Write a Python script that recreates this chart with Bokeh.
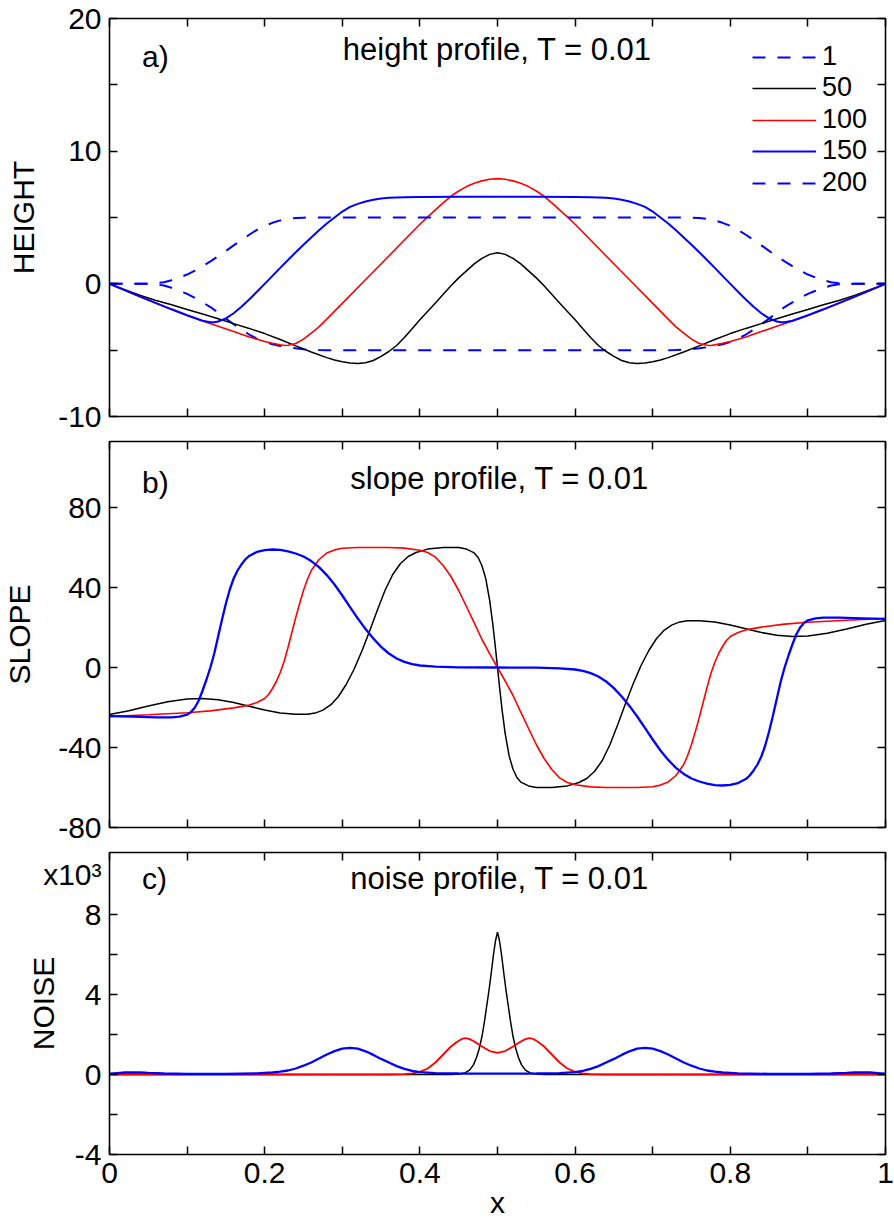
from bokeh.plotting import figure
from bokeh.models import Range1d, FixedTicker, LinearAxis, Label, Legend, LegendItem
from bokeh.layouts import column
from bokeh.embed import file_html
from bokeh.resources import INLINE

FONT = "Liberation Sans"
BLUE = "#0000ff"
RED = "#ff0000"
BLACK = "#000000"

# ---------------- panel a: height profiles ----------------
X_H_DASH = [0, 0.04, 0.06, 0.07, 0.08, 0.09, 0.10, 0.11, 0.12, 0.13, 0.14, 0.15, 0.16, 0.17, 0.18,
            0.19, 0.20, 0.21, 0.22, 0.23, 0.24, 0.25, 0.26, 0.27, 0.28, 0.30, 0.50,
            0.70, 0.72, 0.73, 0.74, 0.75, 0.76, 0.77, 0.78, 0.79, 0.80, 0.81, 0.82, 0.83, 0.84,
            0.85, 0.86, 0.87, 0.88, 0.89, 0.90, 0.91, 0.92, 0.93, 0.94, 0.96, 1.0]
H_1 = [0, 0, -0.04, -0.13, -0.3, -0.52, -0.76, -1.06, -1.4, -1.75, -2.17, -2.62, -3.05, -3.45, -3.82,
       -4.14, -4.38, -4.55, -4.68, -4.78, -4.86, -4.93, -4.97, -4.99, -5.0, -5.0, -5.0,
       -5.0, -5.0, -4.99, -4.97, -4.93, -4.86, -4.78, -4.68, -4.55, -4.38, -4.14, -3.82, -3.45, -3.05,
       -2.62, -2.17, -1.75, -1.4, -1.06, -0.76, -0.52, -0.3, -0.13, -0.04, 0, 0]
H_200 = [0, 0, 0.04, 0.12, 0.27, 0.47, 0.7, 0.99, 1.33, 1.69, 2.08, 2.48, 2.9, 3.3, 3.7,
         4.07, 4.37, 4.6, 4.78, 4.89, 4.96, 4.99, 5.0, 5.0, 5.0, 5.0, 5.0,
         5.0, 5.0, 5.0, 5.0, 4.99, 4.96, 4.89, 4.78, 4.6, 4.37, 4.07, 3.7, 3.3, 2.9,
         2.48, 2.08, 1.69, 1.33, 0.99, 0.7, 0.47, 0.27, 0.12, 0.04, 0, 0]

X_H_50 = [0, 0.02, 0.04, 0.06, 0.08, 0.10, 0.12, 0.14, 0.16, 0.18, 0.20, 0.22, 0.24, 0.26, 0.28,
          0.29, 0.30, 0.31, 0.32, 0.33, 0.34, 0.35, 0.36, 0.37, 0.38, 0.39, 0.40,
          0.42, 0.44, 0.45, 0.46, 0.47, 0.48, 0.49, 0.50,
          0.51, 0.52, 0.53, 0.54, 0.55, 0.56, 0.58, 0.60, 0.61, 0.62, 0.63, 0.64, 0.65, 0.66,
          0.67, 0.68, 0.69, 0.70, 0.71, 0.72, 0.74, 0.76, 0.78, 0.80, 0.82, 0.84, 0.86, 0.88,
          0.90, 0.92, 0.94, 0.96, 0.98, 1.0]
H_50 = [0, -0.45, -0.88, -1.25, -1.58, -1.93, -2.28, -2.63, -3.0, -3.36, -3.75, -4.2, -4.68, -5.14, -5.56,
        -5.74, -5.87, -5.96, -6.0, -5.95, -5.78, -5.47, -5.1, -4.65, -4.05, -3.38, -2.7,
        -1.45, -0.15, 0.45, 0.98, 1.5, 1.92, 2.22, 2.35,
        2.22, 1.92, 1.5, 0.98, 0.45, -0.15, -1.45, -2.7, -3.38, -4.05, -4.65, -5.1, -5.47, -5.78,
        -5.95, -6.0, -5.96, -5.87, -5.74, -5.56, -5.14, -4.68, -4.2, -3.75, -3.36, -3.0, -2.63, -2.28,
        -1.93, -1.58, -1.25, -0.88, -0.45, 0]

X_H_100 = [0, 0.02, 0.04, 0.06, 0.08, 0.10, 0.12, 0.14, 0.16, 0.18, 0.19, 0.20, 0.21, 0.22, 0.225,
           0.23, 0.24, 0.25, 0.26, 0.27, 0.28, 0.30, 0.32, 0.34, 0.36, 0.38, 0.40, 0.41, 0.42,
           0.43, 0.44, 0.45, 0.46, 0.47, 0.48, 0.49, 0.50,
           0.51, 0.52, 0.53, 0.54, 0.55, 0.56, 0.57, 0.58, 0.59, 0.60, 0.62, 0.64, 0.66, 0.68,
           0.70, 0.72, 0.73, 0.74, 0.75, 0.76, 0.77, 0.775, 0.78, 0.79, 0.80, 0.81, 0.82, 0.84,
           0.86, 0.88, 0.90, 0.92, 0.94, 0.96, 0.98, 1.0]
H_100 = [0, -0.49, -0.98, -1.46, -1.93, -2.38, -2.81, -3.2, -3.6, -4.0, -4.18, -4.34, -4.48, -4.6, -4.65,
         -4.63, -4.5, -4.17, -3.72, -3.24, -2.66, -1.47, -0.28, 0.91, 2.1, 3.3, 4.49, 5.05, 5.58,
         6.1, 6.6, 7.0, 7.33, 7.58, 7.76, 7.88, 7.93,
         7.88, 7.76, 7.58, 7.33, 7.0, 6.6, 6.1, 5.58, 5.05, 4.49, 3.3, 2.1, 0.91, -0.28,
         -1.47, -2.66, -3.24, -3.72, -4.17, -4.5, -4.63, -4.65, -4.6, -4.48, -4.34, -4.18, -4.0, -3.6,
         -3.2, -2.81, -2.38, -1.93, -1.46, -0.98, -0.49, 0]

X_H_150 = [0, 0.02, 0.04, 0.06, 0.08, 0.10, 0.11, 0.12, 0.13, 0.135, 0.14, 0.15, 0.16, 0.17, 0.18,
           0.19, 0.20, 0.21, 0.22, 0.23, 0.24, 0.25, 0.26, 0.27, 0.28, 0.29, 0.30, 0.31, 0.32,
           0.33, 0.34, 0.35, 0.36, 0.38, 0.40, 0.45, 0.50,
           0.55, 0.60, 0.62, 0.64, 0.65, 0.66, 0.67, 0.68, 0.69, 0.70, 0.71, 0.72, 0.73, 0.74,
           0.75, 0.76, 0.77, 0.78, 0.79, 0.80, 0.81, 0.82, 0.83, 0.84, 0.85, 0.86, 0.865, 0.87,
           0.88, 0.89, 0.90, 0.92, 0.94, 0.96, 0.98, 1.0]
H_150 = [0, -0.49, -0.98, -1.45, -1.92, -2.37, -2.58, -2.78, -2.9, -2.9, -2.84, -2.6, -2.22, -1.73, -1.18,
         -0.6, 0.0, 0.6, 1.2, 1.8, 2.38, 2.95, 3.5, 4.04, 4.55, 5.0, 5.45, 5.8, 6.03,
         6.21, 6.34, 6.43, 6.48, 6.53, 6.55, 6.56, 6.56,
         6.56, 6.55, 6.53, 6.48, 6.43, 6.34, 6.21, 6.03, 5.8, 5.45, 5.0, 4.55, 4.04, 3.5,
         2.95, 2.38, 1.8, 1.2, 0.6, 0.0, -0.6, -1.18, -1.73, -2.22, -2.6, -2.84, -2.9, -2.9,
         -2.78, -2.58, -2.37, -1.92, -1.45, -0.98, -0.49, 0]

# ---------------- panel b: slope profiles ----------------
X_S_50 = [0, 0.025, 0.05, 0.075, 0.10, 0.12, 0.14, 0.16, 0.18, 0.20, 0.22, 0.24, 0.255, 0.265,
          0.275, 0.285, 0.295, 0.305, 0.315, 0.325, 0.335, 0.345, 0.355, 0.365, 0.375, 0.385,
          0.395, 0.41, 0.43, 0.45, 0.46, 0.47, 0.475, 0.48, 0.485, 0.49, 0.494, 0.497, 0.5,
          0.503, 0.506, 0.51, 0.515, 0.52, 0.525, 0.53, 0.54, 0.55, 0.57, 0.59, 0.605, 0.615,
          0.625, 0.635, 0.645, 0.655, 0.665, 0.675, 0.685, 0.695, 0.705, 0.715, 0.725, 0.735,
          0.745, 0.76, 0.78, 0.80, 0.82, 0.84, 0.86, 0.88, 0.90, 0.925, 0.95, 0.975, 1.0]
S_50 = [-23.5, -21.6, -19.2, -17.1, -15.8, -15.5, -16.1, -17.5, -19.4, -21.2, -22.7, -23.4, -23.4, -22.8,
        -21.3, -18.7, -14.5, -8.5, -1, 8, 18, 28.5, 38.5, 46.5, 52, 55.5,
        57.5, 59.2, 60, 60, 59.2, 57.3, 55, 50.9, 44.2, 33.3, 21.5, 11.1, 0,
        -11.1, -21.5, -33.3, -44.2, -50.9, -55, -57.3, -59.2, -60, -60, -59.2, -57.5, -55.5,
        -52, -46.5, -38.5, -28.5, -18, -8, 1, 8.5, 14.5, 18.7, 21.3, 22.8,
        23.4, 23.4, 22.7, 21.2, 19.4, 17.5, 16.1, 15.5, 15.8, 17.1, 19.2, 21.6, 23.5]

X_S_100 = [0, 0.05, 0.10, 0.13, 0.16, 0.18, 0.19, 0.20, 0.205, 0.21, 0.215, 0.22, 0.225, 0.23,
           0.235, 0.24, 0.245, 0.25, 0.255, 0.26, 0.27, 0.28, 0.29, 0.30, 0.32, 0.36, 0.38, 0.40,
           0.41, 0.42, 0.43, 0.44, 0.45, 0.46, 0.47, 0.48, 0.49, 0.5,
           0.51, 0.52, 0.53, 0.54, 0.55, 0.56, 0.57, 0.58, 0.59, 0.60, 0.62, 0.64, 0.68, 0.70,
           0.71, 0.72, 0.73, 0.74, 0.745, 0.75, 0.755, 0.76, 0.765, 0.77, 0.775, 0.78, 0.785,
           0.79, 0.795, 0.80, 0.81, 0.82, 0.84, 0.87, 0.90, 0.95, 1.0]
S_100 = [-24.5, -23.6, -22.6, -21.7, -20.2, -18.8, -17.5, -15.5, -13.5, -10.5, -7, -2.5, 3, 10,
         17.5, 25, 32, 38.5, 44, 48.5, 54, 57.2, 58.8, 59.6, 60, 60, 59.7, 58.6,
         57.5, 55.2, 51, 45.5, 38.5, 30.5, 22.3, 14, 6.8, 0,
         -6.8, -14, -22.3, -30.5, -38.5, -45.5, -51, -55.2, -57.5, -58.6, -59.7, -60, -60, -59.6,
         -58.8, -57.2, -54, -48.5, -44, -38.5, -32, -25, -17.5, -10, -3, 2.5, 7,
         10.5, 13.5, 15.5, 17.5, 18.8, 20.2, 21.7, 22.6, 23.6, 24.5]

X_S_150 = [0, 0.03, 0.06, 0.08, 0.09, 0.10, 0.105, 0.11, 0.115, 0.12, 0.125, 0.13, 0.135, 0.14,
           0.145, 0.15, 0.155, 0.16, 0.165, 0.17, 0.175, 0.18, 0.19, 0.20, 0.21, 0.22, 0.23,
           0.24, 0.25, 0.26, 0.27, 0.28, 0.29, 0.30, 0.31, 0.32, 0.33, 0.34, 0.35, 0.36, 0.37,
           0.38, 0.39, 0.40, 0.42, 0.45, 0.5,
           0.55, 0.58, 0.60, 0.61, 0.62, 0.63, 0.64, 0.65, 0.66, 0.67, 0.68, 0.69, 0.70, 0.71,
           0.72, 0.73, 0.74, 0.75, 0.76, 0.77, 0.78, 0.79, 0.80, 0.81, 0.82, 0.825, 0.83, 0.835,
           0.84, 0.845, 0.85, 0.855, 0.86, 0.865, 0.87, 0.875, 0.88, 0.885, 0.89, 0.895, 0.90,
           0.91, 0.92, 0.94, 0.97, 1.0]
S_150 = [-24.3, -24.6, -24.9, -24.9, -24.6, -23.6, -22.3, -20, -16.5, -11.5, -6, 0, 7, 15.5,
         24, 32, 39, 44.5, 48.5, 51.5, 54, 55.8, 57.8, 58.7, 59, 58.8, 58.1,
         57, 55.5, 53.2, 50.2, 46.2, 41.5, 36, 30.2, 24.5, 19.2, 14.5, 10.3, 7, 4.5,
         2.8, 1.7, 1.0, 0.4, 0.1, 0,
         -0.1, -0.4, -1.0, -1.7, -2.8, -4.5, -7, -10.3, -14.5, -19.2, -24.5, -30.2, -36, -41.5,
         -46.2, -50.2, -53.2, -55.5, -57, -58.1, -58.8, -59, -58.7, -57.8, -55.8, -54, -51.5, -48.5,
         -44.5, -39, -32, -24, -15.5, -7, 0, 6, 11.5, 16.5, 20, 22.3, 23.6,
         24.6, 24.9, 24.9, 24.6, 24.3]

# ---------------- panel c: noise profiles (x10^3) ----------------
X_N_50 = [0, 0.40, 0.44, 0.45, 0.458, 0.464, 0.469, 0.473, 0.4765, 0.48, 0.483, 0.486, 0.489,
          0.492, 0.495, 0.4975, 0.5, 0.5025, 0.505, 0.508, 0.511, 0.514, 0.517, 0.52, 0.5235,
          0.527, 0.531, 0.536, 0.542, 0.55, 0.56, 0.60, 1.0]
N_50 = [0, 0, 0, 0.02, 0.08, 0.22, 0.48, 0.85, 1.3, 1.9, 2.6, 3.4, 4.2,
        5.1, 6.05, 6.7, 7.12, 6.7, 6.05, 5.1, 4.2, 3.4, 2.6, 1.9, 1.3,
        0.85, 0.48, 0.22, 0.08, 0.02, 0, 0, 0]

X_N_100 = [0, 0.30, 0.36, 0.38, 0.39, 0.40, 0.41, 0.42, 0.43, 0.435, 0.44, 0.448, 0.454, 0.459,
           0.464, 0.47, 0.48, 0.49, 0.5, 0.51, 0.52, 0.53, 0.536, 0.541, 0.546, 0.552, 0.56,
           0.565, 0.57, 0.58, 0.59, 0.60, 0.61, 0.62, 0.64, 0.70, 1.0]
N_100 = [0, 0, 0, 0.02, 0.05, 0.13, 0.3, 0.6, 1.0, 1.2, 1.4, 1.64, 1.78, 1.82,
         1.77, 1.65, 1.4, 1.17, 1.08, 1.17, 1.4, 1.65, 1.77, 1.82, 1.78, 1.64, 1.4,
         1.2, 1.0, 0.6, 0.3, 0.13, 0.05, 0.02, 0, 0, 0]

X_N_150 = [0, 0.01, 0.02, 0.03, 0.04, 0.05, 0.07, 0.10, 0.15, 0.19, 0.21, 0.22, 0.23, 0.24, 0.25,
           0.26, 0.27, 0.28, 0.29, 0.30, 0.31, 0.32, 0.33, 0.34, 0.35, 0.36, 0.37, 0.38, 0.39,
           0.40, 0.42, 0.45, 0.5, 0.55, 0.58, 0.60, 0.61, 0.62, 0.63, 0.64, 0.65, 0.66, 0.67,
           0.68, 0.69, 0.70, 0.71, 0.72, 0.73, 0.74, 0.75, 0.76, 0.77, 0.78, 0.79, 0.81, 0.85,
           0.90, 0.93, 0.95, 0.96, 0.97, 0.98, 0.99, 1.0]
N_150 = [0.04, 0.07, 0.1, 0.11, 0.1, 0.08, 0.05, 0.03, 0.03, 0.06, 0.1, 0.14, 0.2, 0.3, 0.44,
         0.6, 0.8, 1.0, 1.17, 1.29, 1.33, 1.29, 1.16, 0.98, 0.78, 0.6, 0.42, 0.28, 0.18,
         0.12, 0.07, 0.05, 0.04, 0.05, 0.07, 0.12, 0.18, 0.28, 0.42, 0.6, 0.78, 0.98, 1.16,
         1.29, 1.33, 1.29, 1.17, 1.0, 0.8, 0.6, 0.44, 0.3, 0.2, 0.14, 0.1, 0.06, 0.03,
         0.03, 0.05, 0.08, 0.1, 0.11, 0.1, 0.07, 0.04]

# ---------------- ticks / labels ----------------
X_TICKS = [0, 0.2, 0.4, 0.6, 0.8, 1.0]
X_MINOR = [0.1, 0.3, 0.5, 0.7, 0.9]
X_TICK_LABELS = ["0", "0.2", "0.4", "0.6", "0.8", "1"]
H_TICKS = [-10, 0, 10, 20]
H_MINOR = [-5, 5, 15]
H_TICK_LABELS = ["-10", "0", "10", "20"]
S_TICKS = [-80, -40, 0, 40, 80]
S_TICK_LABELS = ["-80", "-40", "0", "40", "80"]
N_TICKS = [-4, 0, 4, 8]
N_MINOR = [-2, 2, 6]
N_TICK_LABELS = ["-4", "0", "4", "8"]
N_SCALE_POS = 10          # where the "x10³" multiplier sits on the NOISE axis
N_SCALE_LABEL = "x10³"
LEGEND_LABELS = ["1", "50", "100", "150", "200"]
TITLES = ["height profile, T = 0.01", "slope profile, T = 0.01", "noise profile, T = 0.01"]
PANEL_TAGS = ["a)", "b)", "c)"]

BORDER_LEFT = 105
FRAME_W = 780
FIG_W = 894


def base_fig(height, top, bottom, yr):
    p = figure(width=FIG_W, height=height, x_range=Range1d(0, 1), y_range=Range1d(*yr),
               output_backend="svg", toolbar_location=None,
               x_axis_location=None, y_axis_location=None,
               min_border_left=BORDER_LEFT, min_border_right=FIG_W - BORDER_LEFT - FRAME_W,
               min_border_top=top, min_border_bottom=bottom)
    p.xgrid.visible = False
    p.ygrid.visible = False
    p.outline_line_color = BLACK
    p.outline_line_width = 1.6
    p.background_fill_color = "white"
    p.border_fill_color = "white"
    return p


def style_ticks(ax, major_len=8):
    ax.major_tick_in = major_len
    ax.major_tick_out = 0
    ax.minor_tick_in = 8
    ax.minor_tick_out = 0
    ax.major_tick_line_width = 1.5
    ax.minor_tick_line_width = 1.5
    ax.major_tick_line_color = BLACK
    ax.minor_tick_line_color = BLACK
    ax.axis_line_color = None


def add_axis(p, side, ticks, minor, labels=None, axis_label=None, label_standoff=0,
             tick_standoff=8, major_len=8):
    ax = LinearAxis(ticker=FixedTicker(ticks=ticks, minor_ticks=minor))
    style_ticks(ax, major_len)
    if labels is None:
        ax.major_label_overrides = {t: "" for t in ticks}
        ax.major_label_text_font_size = "0px"
        ax.major_label_standoff = 0
    else:
        ax.major_label_overrides = dict(zip(ticks, labels))
        ax.major_label_text_font = FONT
        ax.major_label_text_font_size = "30px"
        ax.major_label_text_color = BLACK
        ax.major_label_standoff = tick_standoff
    if axis_label:
        ax.axis_label = axis_label
        ax.axis_label_text_font = FONT
        ax.axis_label_text_font_size = "30px"
        ax.axis_label_text_font_style = "normal"
        ax.axis_label_text_color = BLACK
        ax.axis_label_standoff = label_standoff
    p.add_layout(ax, side)
    return ax


def add_text(p, x, y, text, size="30px", align="left"):
    p.add_layout(Label(x=x, y=y, text=text, text_font=FONT, text_font_size=size,
                       text_color=BLACK, text_align=align, text_baseline="alphabetic"))


# ---------------- panel a ----------------
p1 = base_fig(434, 18, 18, (-10, 20))
add_axis(p1, "below", X_TICKS, X_MINOR)
add_axis(p1, "above", X_TICKS, X_MINOR)
add_axis(p1, "left", H_TICKS, H_MINOR, H_TICK_LABELS, "HEIGHT", 15)
add_axis(p1, "right", H_TICKS, H_MINOR)
r1 = p1.line(X_H_DASH, H_1, line_color=BLUE, line_width=2, line_dash="13 12")
r50 = p1.line(X_H_50, H_50, line_color=BLACK, line_width=1.5)
r100 = p1.line(X_H_100, H_100, line_color=RED, line_width=1.6)
r150 = p1.line(X_H_150, H_150, line_color=BLUE, line_width=2)
r200 = p1.line(X_H_DASH, H_200, line_color=BLUE, line_width=2, line_dash="13 12")
# one legend box per row so the rows sit on a tight, non-overlapping pitch
LEGEND_ROW_OFFSETS = [344, 313, 281, 250, 218]
for lab, rend, off in zip(LEGEND_LABELS, [r1, r50, r100, r150, r200], LEGEND_ROW_OFFSETS):
    lg = Legend(items=[LegendItem(label=lab, renderers=[rend])],
                location=(643, off), glyph_width=64, glyph_height=28, label_height=28,
                label_standoff=6, spacing=0, padding=0, margin=0,
                border_line_color=None, background_fill_alpha=0,
                label_text_font=FONT, label_text_font_size="27px", label_text_color=BLACK)
    p1.add_layout(lg)
add_text(p1, 0.042, 17.14, PANEL_TAGS[0])
add_text(p1, 0.5, 17.67, TITLES[0], size="31px", align="center")

# ---------------- panel b ----------------
p2 = base_fig(411, 7, 18, (-80, 113))
add_axis(p2, "below", X_TICKS, X_MINOR)
add_axis(p2, "above", X_TICKS, X_MINOR)
add_axis(p2, "left", S_TICKS, [], S_TICK_LABELS, "SLOPE", 19)
add_axis(p2, "right", S_TICKS, [])
p2.line(X_S_50, S_50, line_color=BLACK, line_width=1.5)
p2.line(X_S_100, S_100, line_color=RED, line_width=1.6)
p2.line(X_S_150, S_150, line_color=BLUE, line_width=2.3)
add_text(p2, 0.042, 92.5, PANEL_TAGS[1])
add_text(p2, 0.503, 94.5, TITLES[1], size="31px", align="center")

# ---------------- panel c ----------------
p3 = base_fig(387, 7, 78, (-4, 11.1))
add_axis(p3, "below", X_TICKS, X_MINOR, X_TICK_LABELS, "x", 0, tick_standoff=8)
add_axis(p3, "above", X_TICKS, X_MINOR)
# tick marks drawn as minor ticks; the labelled majors include the x10³ multiplier (no mark)
add_axis(p3, "left", N_TICKS + [N_SCALE_POS], N_TICKS + N_MINOR,
         N_TICK_LABELS + [N_SCALE_LABEL], "NOISE", -20, major_len=0)
add_axis(p3, "right", N_TICKS, N_MINOR)
p3.line(X_N_50, N_50, line_color=BLACK, line_width=1.5)
p3.line(X_N_100, N_100, line_color=RED, line_width=1.8)
p3.line(X_N_150, N_150, line_color=BLUE, line_width=2.3)
add_text(p3, 0.042, 9.8, PANEL_TAGS[2])
add_text(p3, 0.503, 9.8, TITLES[2], size="31px", align="center")

layout = column(p1, p2, p3, spacing=0)
open("out.html", "w").write(file_html(layout, INLINE))
